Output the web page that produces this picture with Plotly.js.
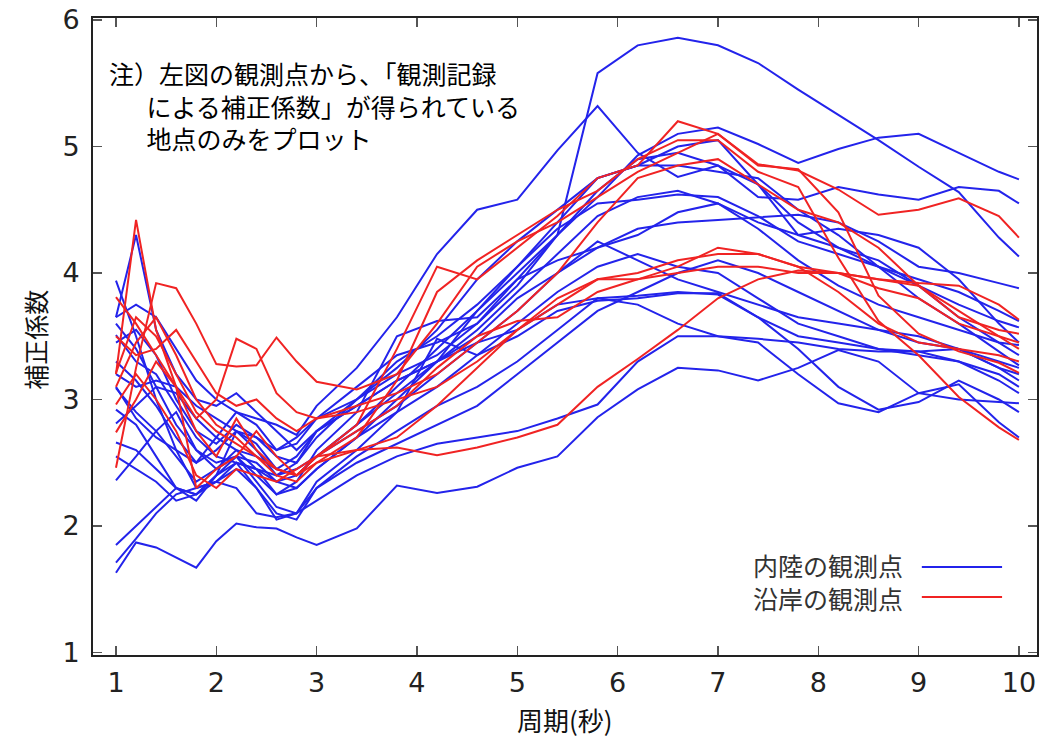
<!DOCTYPE html>
<html>
<head>
<meta charset="utf-8">
<script src="https://cdn.plot.ly/plotly-3.0.1.min.js"></script>
<style>html,body{margin:0;padding:0;background:#fff;}#chart{width:1055px;height:739px;}</style>
</head>
<body>
<div id="chart"></div>
<script>
// 周期(秒)
const periods = [1,1.2,1.4,1.6,1.8,2,2.2,2.4,2.6,2.8,3,3.4,3.8,4.2,4.6,5,5.4,5.8,6.2,6.6,7,7.4,7.8,8.2,8.6,9,9.4,9.8,10];
const xTickVals = [1,2,3,4,5,6,7,8,9,10];
const yTickVals = [1,2,3,4,5,6];

// 内陸の観測点 (blue)
const inland01 = [3.10,2.85,2.70,2.60,2.50,2.60,2.75,2.70,2.60,2.70,2.85,3.10,3.35,3.45,3.60,3.90,4.30,5.58,5.80,5.86,5.80,5.66,5.45,5.25,5.05,4.84,4.64,4.28,4.13];
const inland02 = [3.65,3.75,3.65,3.40,3.15,3.00,2.90,2.85,2.80,2.72,2.95,3.25,3.65,4.15,4.50,4.58,4.97,5.32,4.95,4.76,4.85,4.70,4.40,4.20,4.05,3.90,3.75,3.62,3.57];
const inland03 = [3.94,3.50,3.00,2.60,2.30,2.35,2.50,2.45,2.35,2.40,2.55,2.80,3.10,3.40,3.70,4.00,4.30,4.60,4.93,5.10,5.15,5.02,4.87,4.98,5.07,5.10,4.95,4.80,4.74];
const inland04 = [3.65,4.30,3.55,3.20,3.00,2.95,3.05,2.90,2.75,2.60,2.75,3.00,3.20,3.35,3.60,3.95,4.30,4.65,4.90,4.95,4.85,4.60,4.58,4.68,4.62,4.58,4.68,4.65,4.55];
const inland05 = [3.51,3.30,3.20,2.95,2.70,2.55,2.50,2.45,2.40,2.45,2.55,2.75,2.95,3.20,3.45,3.70,4.00,4.20,4.35,4.40,4.42,4.44,4.46,4.40,4.25,4.05,4.00,3.92,3.88];
const inland06 = [3.60,3.40,3.10,2.80,2.60,2.50,2.55,2.50,2.35,2.30,2.45,2.70,3.00,3.30,3.70,4.05,4.40,4.75,4.85,5.00,5.05,4.70,4.30,4.20,4.10,3.90,3.65,3.45,3.35];
const inland07 = [3.09,2.90,2.75,2.55,2.35,2.45,2.60,2.55,2.45,2.40,2.55,2.80,3.05,3.30,3.50,3.80,4.00,4.25,4.10,3.95,3.85,3.75,3.65,3.60,3.55,3.50,3.40,3.25,3.15];
const inland08 = [1.63,1.87,1.83,1.75,1.67,1.88,2.02,1.99,1.98,1.91,1.85,1.98,2.32,2.26,2.31,2.46,2.55,2.86,3.08,3.25,3.23,3.15,3.25,3.39,3.30,3.05,3.00,2.98,2.97];
const inland09 = [1.71,1.90,2.10,2.25,2.30,2.35,2.30,2.10,2.07,2.10,2.20,2.40,2.55,2.65,2.70,2.75,2.85,2.96,3.30,3.50,3.50,3.45,3.20,2.97,2.90,3.05,3.12,2.82,2.70];
const inland10 = [1.85,2.00,2.15,2.30,2.25,2.40,2.50,2.30,2.10,2.05,2.30,2.55,2.75,2.95,3.10,3.30,3.55,3.80,3.82,3.85,3.83,3.65,3.40,3.10,2.92,2.98,3.15,3.00,2.90];
const inland11 = [2.36,2.55,2.75,2.90,2.60,2.45,2.55,2.40,2.25,2.30,2.45,2.70,2.90,3.10,3.35,3.60,3.85,4.05,4.15,4.05,4.00,3.80,3.60,3.50,3.40,3.35,3.30,3.20,3.10];
const inland12 = [2.66,2.60,2.45,2.30,2.25,2.40,2.55,2.35,2.15,2.10,2.35,2.60,2.90,3.48,3.35,3.50,3.70,3.78,3.80,3.84,3.84,3.65,3.50,3.45,3.40,3.38,3.30,3.15,3.05];
const inland13 = [2.92,2.80,2.55,2.30,2.20,2.40,2.75,2.65,2.45,2.55,2.75,2.95,3.15,3.30,3.55,3.85,4.15,4.45,4.60,4.65,4.55,4.40,4.30,4.35,4.30,4.20,3.95,3.60,3.45];
const inland14 = [2.81,2.95,3.10,3.05,2.85,2.70,2.60,2.45,2.25,2.35,2.60,2.90,3.50,3.62,3.65,3.95,4.10,4.20,4.30,4.48,4.55,4.35,4.10,3.90,3.75,3.65,3.55,3.45,3.43];
const inland15 = [3.30,3.15,2.95,2.70,2.50,2.70,2.90,2.80,2.60,2.65,2.85,3.00,3.25,3.55,3.95,4.25,4.50,4.75,4.85,4.85,4.80,4.75,4.50,4.30,4.05,3.80,3.60,3.38,3.27];
const inland16 = [3.20,3.10,3.15,3.10,2.95,2.85,2.75,2.60,2.40,2.50,2.75,2.95,3.15,3.30,3.45,3.55,3.75,3.80,3.75,3.60,3.50,3.48,3.45,3.40,3.38,3.38,3.40,3.25,3.20];
const inland17 = [2.55,2.45,2.35,2.20,2.25,2.35,2.45,2.30,2.05,2.10,2.30,2.50,2.65,2.80,2.95,3.20,3.45,3.70,3.85,4.00,4.10,4.00,3.85,3.70,3.55,3.45,3.40,3.30,3.25];
const inland18 = [3.45,3.55,3.35,3.00,2.75,2.65,2.80,2.70,2.55,2.50,2.70,3.00,3.30,3.50,3.75,4.05,4.35,4.55,4.58,4.62,4.60,4.45,4.25,4.15,4.05,3.95,3.85,3.70,3.62];

// 沿岸の観測点 (red)
const coastal01 = [3.20,4.42,3.55,3.10,2.75,2.55,2.85,2.60,2.45,2.40,2.55,2.80,3.40,4.05,3.95,4.20,4.45,4.75,4.85,5.20,5.10,4.85,4.82,4.48,3.82,3.52,3.38,3.29,3.21];
const coastal02 = [2.46,3.25,3.92,3.88,3.60,3.28,3.26,3.27,3.49,3.30,3.14,3.08,3.20,3.60,4.05,4.25,4.40,4.60,4.80,4.95,5.10,4.86,4.81,4.66,4.46,4.50,4.59,4.45,4.28];
const coastal03 = [3.81,3.60,3.35,3.10,2.85,3.00,3.48,3.40,3.05,2.90,2.85,2.90,3.00,3.10,3.30,3.55,3.80,3.95,3.95,4.05,4.20,4.15,4.05,4.00,3.95,3.90,3.70,3.50,3.40];
const coastal04 = [3.21,3.65,3.50,3.20,2.90,2.75,2.65,2.55,2.45,2.40,2.55,2.75,2.95,3.25,3.50,3.62,3.65,3.85,3.95,4.00,4.05,4.05,4.00,4.00,3.88,3.80,3.60,3.50,3.45];
const coastal05 = [3.10,3.45,3.65,3.35,3.00,2.80,2.70,2.55,2.40,2.35,2.50,2.60,2.70,2.95,3.25,3.55,3.75,3.95,4.00,4.10,4.15,4.15,4.05,3.85,3.60,3.45,3.40,3.35,3.30];
const coastal06 = [2.96,3.20,3.00,2.75,2.40,2.30,2.45,2.40,2.35,2.45,2.55,2.60,2.62,2.56,2.62,2.70,2.80,3.10,3.32,3.55,3.80,3.95,4.02,4.00,3.95,3.92,3.90,3.75,3.63];
const coastal07 = [2.74,3.00,3.30,3.10,2.30,2.45,2.55,2.75,2.55,2.40,2.50,2.70,3.15,3.85,4.10,4.30,4.50,4.65,4.90,5.05,5.05,4.80,4.68,4.12,3.62,3.35,3.02,2.78,2.68];
const coastal08 = [3.50,3.35,3.40,3.55,3.30,3.05,2.95,3.00,2.85,2.75,2.85,2.95,3.05,3.20,3.45,3.70,4.00,4.40,4.75,4.85,4.90,4.70,4.50,4.40,4.20,3.90,3.65,3.55,3.52];

const inlandSeries = [inland01,inland02,inland03,inland04,inland05,inland06,inland07,inland08,inland09,inland10,inland11,inland12,inland13,inland14,inland15,inland16,inland17,inland18];
const coastalSeries = [coastal01,coastal02,coastal03,coastal04,coastal05,coastal06,coastal07,coastal08];

const legendLabels = ['内陸の観測点','沿岸の観測点'];
const noteLines = ['注）左図の観測点から、「観測記録','\u3000\u2002による補正係数」が得られている','\u3000\u2002地点のみをプロット'];
const xTitle = '周期(秒)';
const yTitle = '補正係数';

const BLUE = 'rgb(35,35,235)';
const RED = 'rgb(240,35,35)';

const traces = [];
inlandSeries.forEach(s => traces.push({x: periods, y: s, type:'scatter', mode:'lines', line:{color:BLUE, width:2}, hoverinfo:'skip'}));
coastalSeries.forEach(s => traces.push({x: periods, y: s, type:'scatter', mode:'lines', line:{color:RED, width:2}, hoverinfo:'skip'}));

const CJK = 'Noto Sans CJK JP, sans-serif';
const tickFont = {family:'DejaVu Sans, sans-serif', size:27, color:'#222'};

const axisCommon = {
  showgrid:false, zeroline:false, showline:true, linecolor:'#222', linewidth:2,
  mirror:'ticks', ticks:'inside', ticklen:9, tickwidth:1.5, tickcolor:'#555',
  tickfont: tickFont, fixedrange:true
};

const annotations = [
  {xref:'paper', yref:'paper', x:0.0148, y:0.862, xanchor:'left', yanchor:'middle', align:'left',
   text:noteLines.join('<br>'), showarrow:false, font:{family:CJK, size:25, color:'#000'}},
  {xref:'paper', yref:'paper', x:0.860, y:0.1146, xanchor:'right', yanchor:'middle', align:'right',
   text:legendLabels.join('<br>'), showarrow:false, font:{family:CJK, size:25, color:'#333'}},
  {xref:'paper', yref:'paper', x:0.5, y:-0.102, xanchor:'center', yanchor:'middle', text:xTitle, showarrow:false, font:{family:CJK, size:26, color:'#111'}},
  {xref:'paper', yref:'paper', x:-0.0614, y:0.495, xanchor:'center', yanchor:'middle', text:yTitle, textangle:-90, showarrow:false, font:{family:CJK, size:25, color:'#111'}}
];

const shapes = [
  {type:'line', xref:'paper', yref:'paper', x0:0.878, x1:0.963, y0:0.1381, y1:0.1381, line:{color:BLUE, width:2}},
  {type:'line', xref:'paper', yref:'paper', x0:0.878, x1:0.963, y0:0.0911, y1:0.0911, line:{color:RED, width:2}}
];

const layout = {
  width:1055, height:739,
  margin:{l:93, r:18, t:18, b:84, pad:0},
  paper_bgcolor:'#fff', plot_bgcolor:'#fff',
  showlegend:false,
  xaxis: Object.assign({}, axisCommon, {range:[0.771,10.18], tickmode:'array', tickvals:xTickVals, ticklabelstandoff:3}),
  yaxis: Object.assign({}, axisCommon, {range:[0.98,6.016], tickmode:'array', tickvals:yTickVals, ticklabelstandoff:6}),
  annotations: annotations,
  shapes: shapes
};

Plotly.newPlot('chart', traces, layout, {staticPlot:true, displayModeBar:false});
</script>
</body>
</html>
